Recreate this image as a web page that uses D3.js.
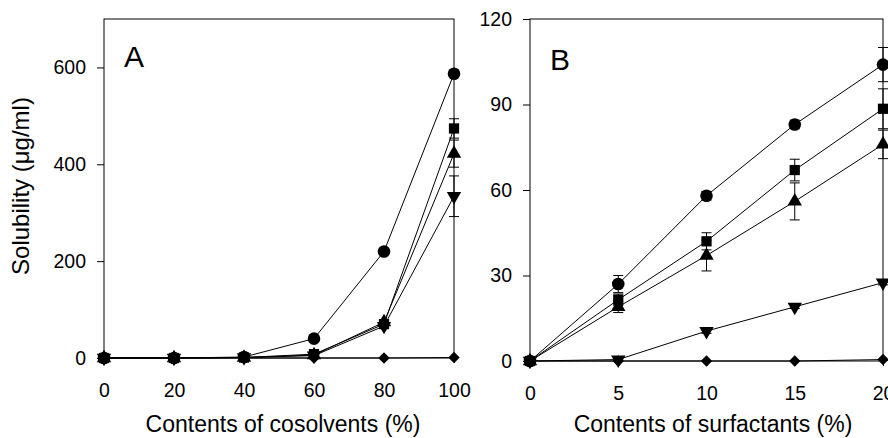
<!DOCTYPE html>
<html>
<head>
<meta charset="utf-8">
<script src="https://cdn.jsdelivr.net/npm/d3@7"></script>
<style>
  body { margin: 0; background: #fff; }
  svg { display: block; font-family: "Liberation Sans", Arial, sans-serif; }
</style>
</head>
<body>
<div id="chart-container"></div>
<script>
// panel A: cosolvents
const cosolventX = [0, 20, 40, 60, 80, 100];
const cosolventCircle   = [0, 0, 2, 40, 220, 587];
const cosolventSquare   = [0, 0, 1, 8, 70, 474];
const cosolventTriUp    = [0, 0, 1, 6, 74, 422];
const cosolventTriDown  = [0, 0, 1, 5, 66, 334];
const cosolventDiamond  = [0, 0, 0, 0, 0, 1];
const cosolventErrSquare  = [0, 0, 0, 1, 4, 20];
const cosolventErrTriUp   = [0, 0, 0, 1, 4, 28];
const cosolventErrTriDown = [0, 0, 0, 1, 4, 42];
const cosolventYTicks = [0, 200, 400, 600];

// panel B: surfactants
const surfactantX = [0, 5, 10, 15, 20];
const surfactantCircle  = [0, 27, 58, 83, 104];
const surfactantSquare  = [0, 21.5, 42, 67, 88.5];
const surfactantTriUp   = [0, 19, 37, 56, 76];
const surfactantTriDown = [0, 0.5, 10.5, 19, 27.5];
const surfactantDiamond = [0, 0, 0, 0, 0.5];
const surfactantErrCircle  = [0, 3, 1.5, 1.5, 6];
const surfactantErrSquare  = [0, 2, 3, 3.8, 7];
const surfactantErrTriUp   = [0, 2, 5.4, 6.5, 5];
const surfactantErrTriDown = [0, 0.3, 0.8, 0.6, 0.8];
const surfactantYTicks = [0, 30, 60, 90, 120];

const width = 888, height = 438;
const svg = d3.select("#chart-container").append("svg")
  .attr("width", width).attr("height", height);

function marker(kind) {
  if (kind === "circle") return d3.symbol(d3.symbolCircle, 125)();
  if (kind === "square") return d3.symbol(d3.symbolSquare, 105)();
  if (kind === "up" || kind === "down") return d3.symbol(d3.symbolTriangle, 90)();
  return d3.symbol(d3.symbolSquare, 65)();
}
function rot(kind) {
  if (kind === "down") return " rotate(180)";
  if (kind === "diamond") return " rotate(45)";
  return "";
}

function panel(opts) {
  const { left, right, top, bottom, xDomain, yDomain, xTicks, yTicks, series, letter, letterY, xTitle, titleX } = opts;
  const x = d3.scaleLinear().domain(xDomain).range([left, right]);
  const y = d3.scaleLinear().domain(yDomain).range([bottom, top]);
  const g = svg.append("g");

  // frame
  g.append("rect").attr("x", left).attr("y", top)
    .attr("width", right - left).attr("height", bottom - top)
    .attr("fill", "none").attr("stroke", "#000").attr("stroke-width", 1);

  const ax = g.append("g").attr("transform", `translate(0,${bottom})`)
    .call(d3.axisBottom(x).tickValues(xTicks).tickSize(5).tickSizeOuter(0).tickPadding(20));
  const ay = g.append("g").attr("transform", `translate(${left},0)`)
    .call(d3.axisLeft(y).tickValues(yTicks).tickSize(7).tickSizeOuter(0).tickPadding(11));
  [ax, ay].forEach(a => {
    a.select(".domain").remove();
    a.selectAll("text").attr("font-size", 19.5).attr("fill", "#000")
      .style("font-family", "Liberation Sans, Arial, sans-serif");
    a.selectAll("line").attr("stroke", "#000");
  });

  const line = d3.line().x(d => x(d[0])).y(d => y(d[1]));
  series.forEach(s => {
    const pts = opts.xs.map((v, i) => [v, s.vals[i], s.err ? s.err[i] : 0]);
    g.append("path").attr("d", line(pts)).attr("fill", "none")
      .attr("stroke", "#000").attr("stroke-width", 1);
    pts.filter(p => p[2] > 0).forEach(p => {
      const cx = x(p[0]), y1 = y(p[1] + p[2]), y2 = y(p[1] - p[2]);
      g.append("line").attr("x1", cx).attr("x2", cx).attr("y1", y1).attr("y2", y2).attr("stroke", "#000");
      [y1, y2].forEach(yy => g.append("line").attr("x1", cx - 5).attr("x2", cx + 5)
        .attr("y1", yy).attr("y2", yy).attr("stroke", "#000"));
    });
    g.selectAll(null).data(pts).join("path")
      .attr("d", marker(s.kind))
      .attr("transform", d => `translate(${x(d[0])},${y(d[1])})${rot(s.kind)}`)
      .attr("fill", "#000");
  });

  g.append("text").attr("x", left + 20).attr("y", letterY)
    .attr("font-size", 30).text(letter);
  g.append("text").attr("x", titleX).attr("y", 432)
    .attr("text-anchor", "middle").attr("font-size", 23).text(xTitle);
}

panel({
  left: 104, right: 454, top: 19, bottom: 358,
  xDomain: [0, 100], yDomain: [0, 700], xTicks: cosolventX, yTicks: cosolventYTicks,
  xs: cosolventX, letter: "A", letterY: 67, xTitle: "Contents of cosolvents (%)", titleX: 283,
  series: [
    { kind: "diamond", vals: cosolventDiamond },
    { kind: "down", vals: cosolventTriDown, err: cosolventErrTriDown },
    { kind: "up", vals: cosolventTriUp, err: cosolventErrTriUp },
    { kind: "square", vals: cosolventSquare, err: cosolventErrSquare },
    { kind: "circle", vals: cosolventCircle }
  ]
});

panel({
  left: 530, right: 883, top: 19, bottom: 361,
  xDomain: [0, 20], yDomain: [0, 120], xTicks: surfactantX, yTicks: surfactantYTicks,
  xs: surfactantX, letter: "B", letterY: 70, xTitle: "Contents of surfactants (%)", titleX: 713,
  series: [
    { kind: "diamond", vals: surfactantDiamond },
    { kind: "down", vals: surfactantTriDown, err: surfactantErrTriDown },
    { kind: "up", vals: surfactantTriUp, err: surfactantErrTriUp },
    { kind: "square", vals: surfactantSquare, err: surfactantErrSquare },
    { kind: "circle", vals: surfactantCircle, err: surfactantErrCircle }
  ]
});

svg.append("text").attr("transform", "translate(29,186) rotate(-90)")
  .attr("text-anchor", "middle").attr("font-size", 24).text("Solubility (μg/ml)");
</script>
</body>
</html>
